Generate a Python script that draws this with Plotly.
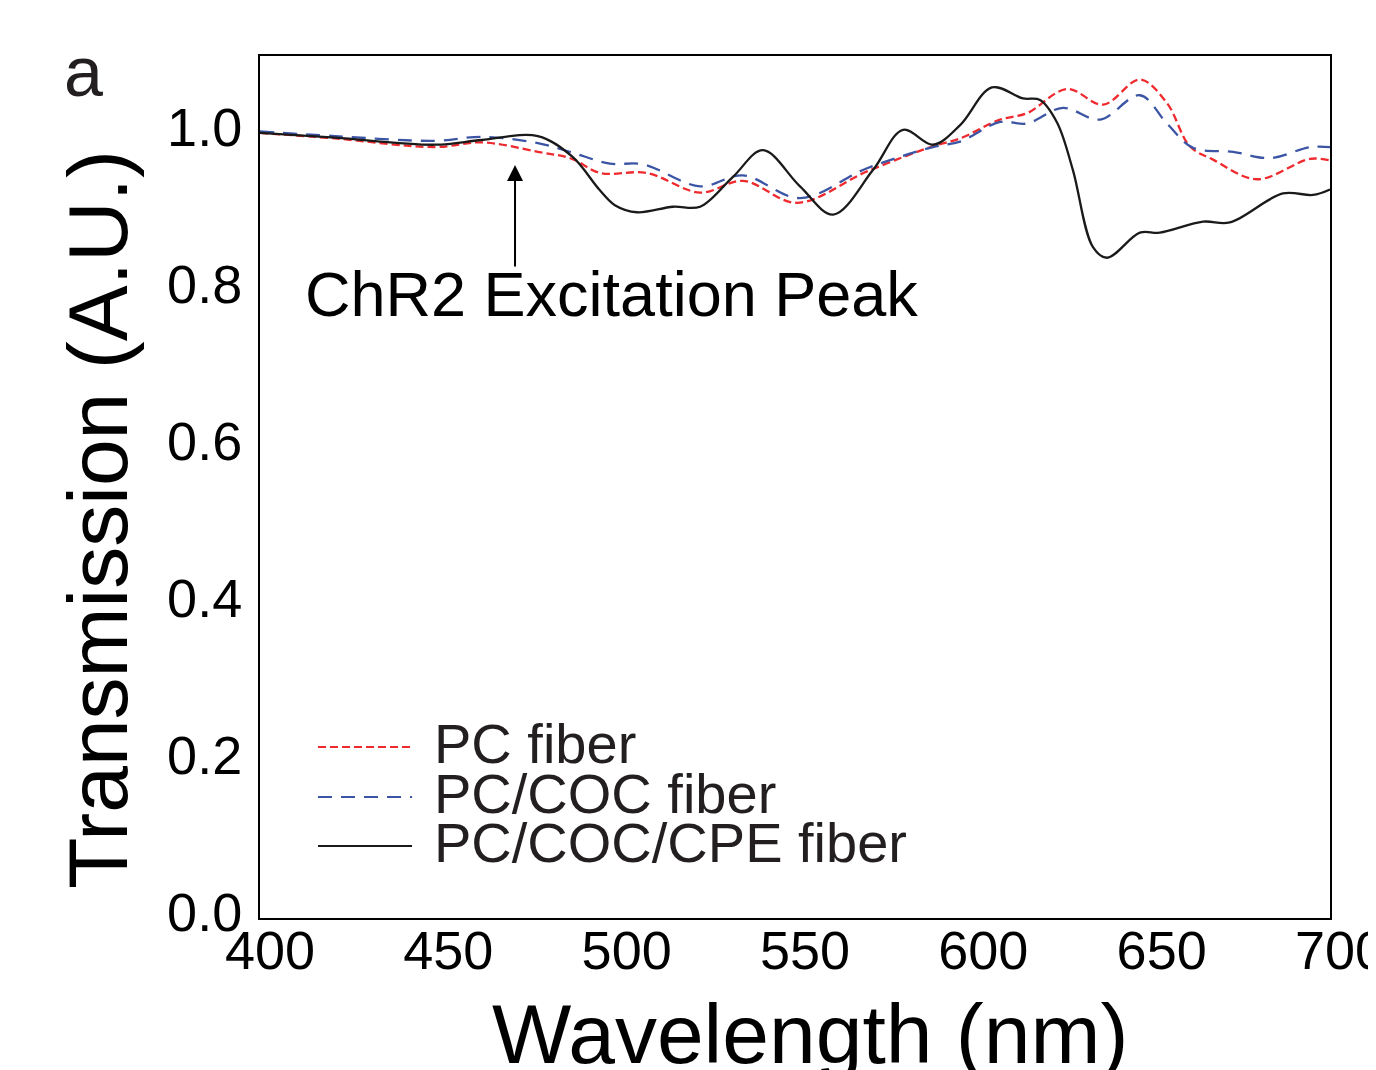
import plotly.graph_objects as go

# ---- data ----
wl_black = [400, 421, 449.1, 462.2, 477.9, 487.5, 495.3, 499.5, 505.7, 515.8, 523.4, 532.6,
            541.0, 551.4, 560.7, 571.9, 580.3, 588.7, 596.3, 605.2, 613.9, 618.7, 623.5,
            627.9, 633.5, 637.5, 646.7, 652.3, 664.4, 671.9, 686.8, 695.2, 700]
t_black = [1.000, 0.994, 0.985, 0.991, 0.996, 0.970, 0.927, 0.908, 0.899, 0.906, 0.906, 0.944,
           0.978, 0.932, 0.896, 0.953, 1.004, 0.985, 1.010, 1.058, 1.044, 1.042, 1.013,
           0.953, 0.855, 0.841, 0.873, 0.873, 0.887, 0.886, 0.923, 0.921, 0.928]

wl_red = [400, 421, 449.1, 462.2, 477.9, 487.5, 495.3, 508.5, 523.4, 535.4, 550.6, 570.2,
          588.7, 596.3, 607.5, 615.0, 626.3, 636.4, 646.7, 654.3, 660.7, 667.2, 679.5,
          694.4, 700]
t_red = [1.000, 0.993, 0.982, 0.988, 0.976, 0.967, 0.949, 0.949, 0.924, 0.939, 0.911, 0.951,
         0.983, 0.993, 1.017, 1.025, 1.056, 1.036, 1.068, 1.038, 0.983, 0.966, 0.941,
         0.967, 0.965]

wl_blue = [400, 421, 449.1, 462.2, 477.9, 487.5, 498.1, 507.4, 523.4, 535.4, 551.4, 570.2,
           588.7, 596.3, 607.5, 615.0, 625.1, 635.5, 646.7, 654.3, 661.6, 672.8, 683.2,
           694.4, 700]
t_blue = [1.002, 0.996, 0.990, 0.995, 0.987, 0.975, 0.961, 0.960, 0.932, 0.946, 0.917, 0.955,
          0.982, 0.989, 1.014, 1.012, 1.032, 1.017, 1.048, 1.012, 0.981, 0.976, 0.968,
          0.982, 0.982]

series_names = ["PC fiber", "PC/COC fiber", "PC/COC/CPE fiber"]
x_ticks = [400, 450, 500, 550, 600, 650, 700]
y_ticks = [0.0, 0.2, 0.4, 0.6, 0.8, 1.0]
y_tick_text = ["0.0", "0.2", "0.4", "0.6", "0.8", "1.0"]
peak_wl = 471.5
peak_tail, peak_tip = 0.828, 0.959

FONT = "Liberation Sans, Arial, sans-serif"

RED = "#ee2a2e"
BLUE = "#3b55a4"
BLACK = "#1a1a1a"
RED_DASH = "8px,4px"
BLUE_DASH = "14px,9px"
LW = 2.3

fig = go.Figure()
fig.add_trace(go.Scatter(x=wl_red, y=t_red, mode="lines", name=series_names[0],
                         line=dict(color=RED, width=LW, dash=RED_DASH, shape="spline", smoothing=1.0),
                         showlegend=False))
fig.add_trace(go.Scatter(x=wl_blue, y=t_blue, mode="lines", name=series_names[1],
                         line=dict(color=BLUE, width=LW, dash=BLUE_DASH, shape="spline", smoothing=1.0),
                         showlegend=False))
fig.add_trace(go.Scatter(x=wl_black, y=t_black, mode="lines", name=series_names[2],
                         line=dict(color=BLACK, width=LW, shape="spline", smoothing=1.0),
                         showlegend=False))

# manual legend (long line samples as in the reference)
leg_y = [0.1984, 0.1404, 0.0835]
leg_styles = [(RED, RED_DASH), (BLUE, BLUE_DASH), (BLACK, "solid")]
shapes = []
annotations = []
for name, yy, (col, dash) in zip(series_names, leg_y, leg_styles):
    shapes.append(dict(type="line", xref="paper", yref="paper", x0=0.0542, x1=0.1421,
                       y0=yy, y1=yy, line=dict(color=col, width=2, dash=dash)))
    annotations.append(dict(xref="paper", yref="paper", x=0.1607, y=yy + 0.004, text=name,
                            showarrow=False, xanchor="left", yanchor="middle",
                            font=dict(family=FONT, size=56, color="#231f20")))

# arrow + label
annotations.append(dict(x=peak_wl, y=peak_tip, ax=peak_wl, ay=peak_tail, xref="x", yref="y",
                        axref="x", ayref="y", showarrow=True, arrowhead=2, arrowsize=1.6,
                        arrowwidth=2, arrowcolor="black", text=""))
annotations.append(dict(xref="paper", yref="paper", x=(303 - 260) / 1070, y=(918 - 294) / 862,
                        text="ChR2 Excitation Peak", showarrow=False, xanchor="left",
                        yanchor="middle", font=dict(family=FONT, size=63, color="black")))
annotations.append(dict(xref="paper", yref="paper", x=(62 - 260) / 1070, y=(918 - 72) / 862,
                        text="a", showarrow=False, xanchor="left", yanchor="middle",
                        font=dict(family=FONT, size=70, color="#231f20")))
# axis titles
annotations.append(dict(xref="paper", yref="paper", x=(98 - 260) / 1070, y=(918 - 520) / 862,
                        text="Transmission (A.U.)", textangle=-90, showarrow=False,
                        xanchor="center", yanchor="middle",
                        font=dict(family=FONT, size=84, color="black")))
annotations.append(dict(xref="paper", yref="paper", x=(810 - 260) / 1070, y=(918 - 1034) / 862,
                        text="Wavelength (nm)", showarrow=False,
                        xanchor="center", yanchor="middle",
                        font=dict(family=FONT, size=84, color="black")))

fig.update_layout(
    width=1376, height=1070,
    margin=dict(l=252, r=54, t=48, b=160, autoexpand=False),
    paper_bgcolor="white", plot_bgcolor="white",
    shapes=shapes, annotations=annotations,
    xaxis=dict(range=[400, 700], tickvals=x_ticks, ticks="", ticklen=0, showgrid=False, zeroline=False,
               showline=True, linecolor="black", linewidth=2, mirror=True,
               tickfont=dict(family=FONT, size=54, color="black"), ticklabelstandoff=-16,
               ticklabeloverflow="allow", ticklabelshift=10),
    yaxis=dict(range=[0, 1.098], tickvals=y_ticks, ticktext=y_tick_text, ticks="", ticklen=0,
               showgrid=False, zeroline=False, showline=True, linecolor="black", linewidth=2,
               mirror=True, tickfont=dict(family=FONT, size=54, color="black"),
               ticklabelstandoff=5, ticklabelshift=-6),
)

fig.write_html("out.html")
